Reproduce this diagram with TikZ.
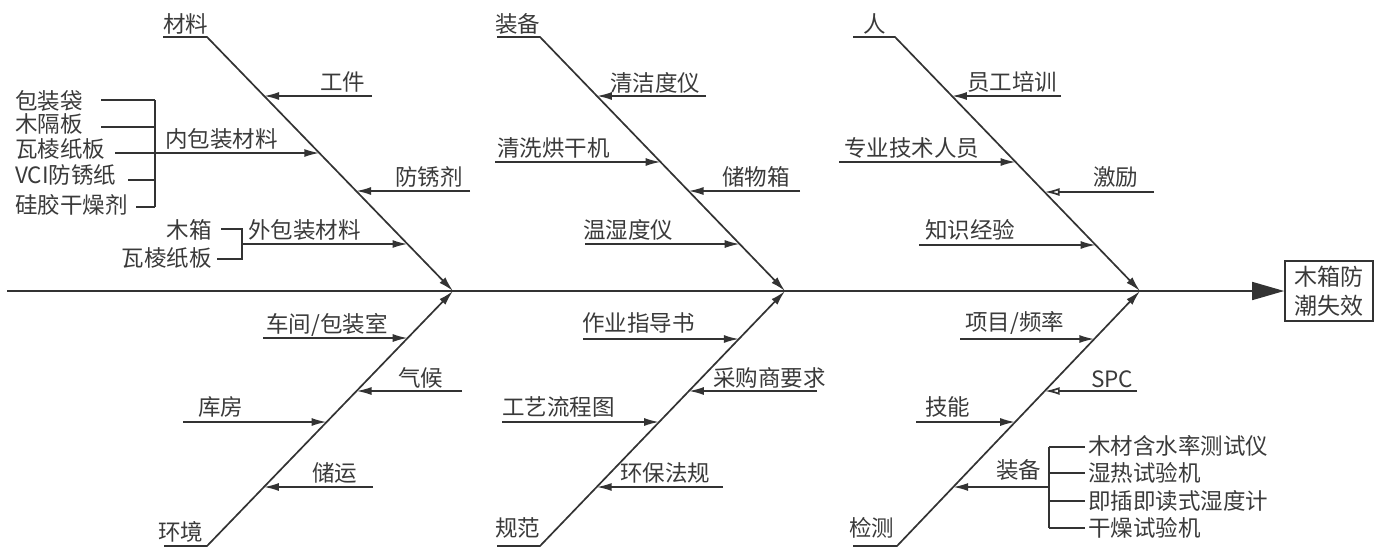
\documentclass[tikz,border=0pt]{standalone}
\usepackage{fontspec}
\newfontfamily\cjk{Noto Sans CJK SC}
\usetikzlibrary{arrows.meta}
\definecolor{ln}{HTML}{333333}
\definecolor{tx}{HTML}{3A3A3A}
\tikzset{
  lbl/.style={inner sep=0pt, anchor=west, text=tx, font=\cjk\fontsize{22.5}{27}\selectfont},
  lblr/.style={lbl, anchor=east},
  bone/.style={draw=ln, line width=1.7pt, -{Latex[length=15pt,width=8pt]}},
  sub/.style={draw=ln, line width=1.7pt, -{Latex[length=15pt,width=8pt]}},
  subo/.style={draw=ln, line width=1.7pt, -{Latex[open,length=15pt,width=8pt]}},
  plain/.style={draw=ln, line width=1.7pt},
  spine/.style={draw=ln, line width=1.7pt, -{Triangle[length=32pt,width=18pt]}},
  effbox/.style={draw=ln, line width=1.7pt, minimum width=88pt, minimum height=60pt, inner sep=0pt, align=center, text=tx, font=\cjk\fontsize{23}{29}\selectfont}
}
\begin{document}
\begin{tikzpicture}[x=1pt,y=-1pt]
\useasboundingbox (0,0) rectangle (1380,558);
% effect and spine
\node[effbox] (eff) at (1329,291) {木箱防\\潮失效};
\coordinate (sp0) at (7,291);
\draw[spine] (sp0) -- (eff.west);
\coordinate (J1) at (453,291);
\coordinate (J2) at (785,291);
\coordinate (J3) at (1140,291);

% ===== 材料 =====
\node[lbl] (Lmat) at (163,24) {材料};
\coordinate (mat0) at (163,37); \coordinate (mat1) at (207,37);
\draw[bone] (mat0) -- (mat1) -- (J1);
\node[lbl] (Lgj) at (320,82) {工件};
\coordinate (gj0) at (372,96); \coordinate (gj1) at (264.1,96);
\draw[sub] (gj0) -- (gj1);
\node[lbl] (Lnb) at (165,139) {内包装材料};
\coordinate (nb0) at (115,153); \coordinate (nb1) at (319.3,153);
\draw[sub] (nb0) -- (nb1);
\node[lbl] (Lb1) at (15,101) {包装袋};
\node[lbl] (Lb2) at (15,124) {木隔板};
\node[lbl] (Lb3) at (15,149) {瓦棱纸板};
\node[lbl] (Lb4) at (15,175) {VCI防锈纸};
\node[lbl] (Lb5) at (15,205) {硅胶干燥剂};
\coordinate (br1) at (155,100); \coordinate (br5) at (155,207);
\draw[plain] (br1) -- (br5);
\coordinate (b1a) at (101,100); \draw[plain] (b1a) -- (br1);
\coordinate (b2a) at (101,127); \coordinate (b2b) at (155,127); \draw[plain] (b2a) -- (b2b);
\coordinate (b4a) at (128,180); \coordinate (b4b) at (155,180); \draw[plain] (b4a) -- (b4b);
\coordinate (b5a) at (136,207); \draw[plain] (b5a) -- (br5);
\node[lbl] (Lfx) at (395,177) {防锈剂};
\coordinate (fx0) at (470,191); \coordinate (fx1) at (356.1,191);
\draw[sub] (fx0) -- (fx1);
\node[lbl] (Lwb) at (248,230) {外包装材料};
\coordinate (wb0) at (242,244); \coordinate (wb1) at (407.5,244);
\draw[sub] (wb0) -- (wb1);
\node[lblr] (Lw1) at (212,230) {木箱};
\node[lblr] (Lw2) at (212,258) {瓦棱纸板};
\coordinate (wr1) at (242,229); \coordinate (wr2) at (242,259);
\coordinate (w1a) at (221,229); \coordinate (w2a) at (217,259);
\draw[plain] (w1a) -- (wr1) -- (wr2) -- (w2a);

% ===== 装备 =====
\node[lbl] (Lzb) at (495,24) {装备};
\coordinate (zb0) at (497,37); \coordinate (zb1) at (540,37);
\draw[bone] (zb0) -- (zb1) -- (J2);
\node[lbl] (Lqj) at (610,83) {清洁度仪};
\coordinate (qj0) at (706,96); \coordinate (qj1) at (596.9,96);
\draw[sub] (qj0) -- (qj1);
\node[lbl] (Lqx) at (497,148) {清洗烘干机};
\coordinate (qx0) at (495,162); \coordinate (qx1) at (660.6,162);
\draw[sub] (qx0) -- (qx1);
\node[lbl] (Lcw) at (722,177) {储物箱};
\coordinate (cw0) at (800,191); \coordinate (cw1) at (688.5,191);
\draw[sub] (cw0) -- (cw1);
\node[lbl] (Lws) at (583,230) {温湿度仪};
\coordinate (ws0) at (585,244); \coordinate (ws1) at (739.7,244);
\draw[sub] (ws0) -- (ws1);

% ===== 人 =====
\node[lbl] (Lren) at (863,24) {人};
\coordinate (rn0) at (853,37); \coordinate (rn1) at (895,37);
\draw[bone] (rn0) -- (rn1) -- (J3);
\node[lbl] (Lyg) at (967,82) {员工培训};
\coordinate (yg0) at (1061,96); \coordinate (yg1) at (951.9,96);
\draw[sub] (yg0) -- (yg1);
\node[lbl] (Lzy) at (844,148) {专业技术人员};
\coordinate (zy0) at (839,162); \coordinate (zy1) at (1015.6,162);
\draw[sub] (zy0) -- (zy1);
\node[lbl] (Ljl) at (1093,177) {激励};
\coordinate (jl0) at (1154,192); \coordinate (jl1) at (1044.5,192);
\draw[subo] (jl0) -- (jl1);
\node[lbl] (Lzs) at (925,230) {知识经验};
\coordinate (zs0) at (919,245); \coordinate (zs1) at (1095.6,245);
\draw[sub] (zs0) -- (zs1);

% ===== 环境 =====
\node[lbl] (Lhj) at (158,532) {环境};
\coordinate (hj0) at (164,546); \coordinate (hj1) at (207,546);
\draw[bone] (hj0) -- (hj1) -- (J1);
\node[lbl] (Lcj) at (266,325) {车间/包装室};
\coordinate (cj0) at (263,338); \coordinate (cj1) at (407.7,338);
\draw[sub] (cj0) -- (cj1);
\node[lbl] (Lqh) at (398,378) {气候};
\coordinate (qh0) at (462,391); \coordinate (qh1) at (356.5,391);
\draw[sub] (qh0) -- (qh1);
\node[lbl] (Lkf) at (198,407) {库房};
\coordinate (kf0) at (183,422); \coordinate (kf1) at (326.6,422);
\draw[sub] (kf0) -- (kf1);
\node[lbl] (Lcy) at (312,473) {储运};
\coordinate (cy0) at (373,487); \coordinate (cy1) at (263.9,487);
\draw[sub] (cy0) -- (cy1);

% ===== 规范 =====
\node[lbl] (Lgf) at (495,528) {规范};
\coordinate (gf0) at (497,546); \coordinate (gf1) at (540,546);
\draw[bone] (gf0) -- (gf1) -- (J2);
\node[lbl] (Lzd) at (582,323) {作业指导书};
\coordinate (zd0) at (583,339); \coordinate (zd1) at (738.9,339);
\draw[sub] (zd0) -- (zd1);
\node[lbl] (Lcg) at (713,378) {采购商要求};
\coordinate (cg0) at (817,391); \coordinate (cg1) at (688.9,391);
\draw[sub] (cg0) -- (cg1);
\node[lbl] (Lgy) at (502,407) {工艺流程图};
\coordinate (gy0) at (502,422); \coordinate (gy1) at (659.1,422);
\draw[sub] (gy0) -- (gy1);
\node[lbl] (Lhb) at (620,473) {环保法规};
\coordinate (hb0) at (723,487); \coordinate (hb1) at (596.7,487);
\draw[sub] (hb0) -- (hb1);

% ===== 检测 =====
\node[lbl] (Ljc) at (849,528) {检测};
\coordinate (jc0) at (853,546); \coordinate (jc1) at (897,546);
\draw[bone] (jc0) -- (jc1) -- (J3);
\node[lbl] (Lxm) at (965,323) {项目/频率};
\coordinate (xm0) at (960,339); \coordinate (xm1) at (1094.3,339);
\draw[sub] (xm0) -- (xm1);
\node[lbl] (Lspc) at (1091,379) {SPC};
\coordinate (spc0) at (1137,391); \coordinate (spc1) at (1044.7,391);
\draw[subo] (spc0) -- (spc1);
\node[lbl] (Ljn) at (925,407) {技能};
\coordinate (jn0) at (916,422); \coordinate (jn1) at (1015.2,422);
\draw[sub] (jn0) -- (jn1);
\node[lbl] (Lzb2) at (996,470) {装备};
\coordinate (zz0) at (1049,487); \coordinate (zz1) at (953.2,487);
\draw[sub] (zz0) -- (zz1);
\coordinate (kr1) at (1049,447); \coordinate (kr4) at (1049,528);
\draw[plain] (kr1) -- (kr4);
\node[lbl] (Lk1) at (1088,446) {木材含水率测试仪};
\node[lbl] (Lk2) at (1088,473) {湿热试验机};
\node[lbl] (Lk3) at (1088,501) {即插即读式湿度计};
\node[lbl] (Lk4) at (1088,528) {干燥试验机};
\coordinate (k1e) at (1085,447); \draw[plain] (kr1) -- (k1e);
\coordinate (k2s) at (1049,473); \coordinate (k2e) at (1085,473); \draw[plain] (k2s) -- (k2e);
\coordinate (k3s) at (1049,501); \coordinate (k3e) at (1085,501); \draw[plain] (k3s) -- (k3e);
\coordinate (k4e) at (1085,528); \draw[plain] (kr4) -- (k4e);
\end{tikzpicture}
\end{document}
